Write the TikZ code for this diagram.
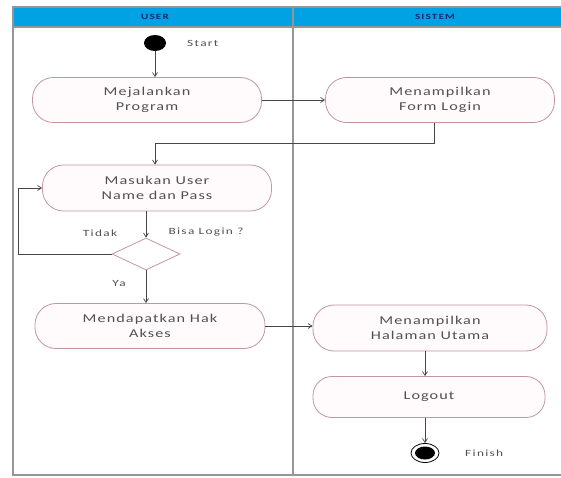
\documentclass[tikz,border=0pt]{standalone}
\usepackage{fontspec}
\setmainfont{Carlito}
\newfontfamily\actfont[FakeStretch=1.35,LetterSpace=9]{Carlito}
\newfontfamily\lblfont[FakeStretch=1.4,LetterSpace=14]{Carlito}
\usetikzlibrary{arrows.meta,shapes.geometric}
\definecolor{hdrblue}{RGB}{0,162,228}
\definecolor{hdrtext}{RGB}{20,40,110}
\definecolor{framegray}{RGB}{150,150,150}
\definecolor{actborder}{RGB}{195,150,160}
\definecolor{actfill}{RGB}{255,250,251}
\definecolor{txtgray}{RGB}{80,80,80}
\definecolor{linegray}{RGB}{70,70,70}
\tikzset{
  x=1pt, y=-1pt,
  activity/.style={draw=actborder, fill=actfill, line width=0.8pt, rounded corners=21pt,
    minimum width=229pt, minimum height=45pt, align=center, text=txtgray,
    font=\actfont\fontsize{12}{15}\selectfont, inner sep=0pt},
  decision/.style={diamond, draw=actborder, fill=white, line width=0.8pt, minimum width=68pt,
    minimum height=32pt, inner sep=0pt, aspect=2.1},
  flow/.style={draw=linegray, line width=0.7pt, -{Straight Barb[length=4pt,width=5pt]}},
  smalllbl/.style={font=\lblfont\fontsize{9.5}{10}\selectfont, text=txtgray, inner sep=0pt},
  hdrlbl/.style={font=\lblfont\fontsize{8}{9}\selectfont\bfseries, text=hdrtext, inner sep=0pt},
  frame/.style={draw=framegray, line width=1.6pt}
}
\begin{document}
\begin{tikzpicture}
\useasboundingbox (0,0) rectangle (561,478);
% swimlane frame
\fill[hdrblue] (13,7) rectangle (561,27);
\draw[frame] (561,7) -- (13,7) -- (13,475) -- (561,475);
\draw[frame] (13,27) -- (561,27);
\draw[frame] (293,7) -- (293,475);
\node[hdrlbl] (huser) at (155,17) {USER};
\node[hdrlbl] (hsis) at (435,17) {SISTEM};

% start
\node[ellipse, fill=black, minimum width=22pt, minimum height=16pt, inner sep=0pt] (start) at (155,43) {};
\node[smalllbl, anchor=west] (startlbl) at (187,43) {Start};

% activities
\node[activity] (mej) at (147,100) {Mejalankan\\Program};
\node[activity] (form) at (440,100) {Menampilkan\\Form Login};
\node[activity, minimum height=46pt] (mas) at (157,188) {Masukan User\\Name dan Pass};
\node[decision] (dec) at (146,254) {};
\node[smalllbl] (tidak) at (100,233) {Tidak};
\node[smalllbl] (bisa) at (206,232) {Bisa Login ?};
\node[smalllbl] (ya) at (119,283) {Ya};
\node[activity, minimum width=230pt] (mend) at (150,326) {Mendapatkan Hak\\Akses};
\node[activity, minimum width=234pt, minimum height=46pt] (hal) at (430,328) {Menampilkan\\Halaman Utama};
\node[activity, minimum width=232pt, minimum height=41pt, rounded corners=19pt] (logout) at (429,397) {Logout};

% finish
\node[ellipse, draw=black, line width=0.8pt, minimum width=28pt, minimum height=19pt, inner sep=0pt] (finish) at (425,453) {};
\node[ellipse, fill=black, minimum width=20pt, minimum height=13pt, inner sep=0pt] (finishin) at (finish.center) {};
\node[smalllbl, anchor=west] (finlbl) at (465,453) {Finish};

% connectors
\draw[flow] (start) -- (start |- mej.north);
\draw[flow] (mej.east) -- (form.west);
\coordinate (c1) at (434,143);
\coordinate (c2) at (155,143);
\draw[flow] (form.south -| c1) -- (c1) -- (c2) -- (c2 |- mas.north);
\draw[flow] (mas.south -| dec.north) -- (dec.north);
\coordinate (c3) at (18,254);
\coordinate (c4) at (18,188);
\draw[flow] (dec.west) -- (c3) -- (c4) -- (mas.west);
\draw[flow] (dec.south) -- (dec.south |- mend.north);
\draw[flow] (mend.east) -- (mend.east -| hal.west);
\draw[flow] (hal.south -| finish.north) -- (logout.north -| finish.north);
\draw[flow] (logout.south -| finish.north) -- (finish.north);
\end{tikzpicture}
\end{document}
